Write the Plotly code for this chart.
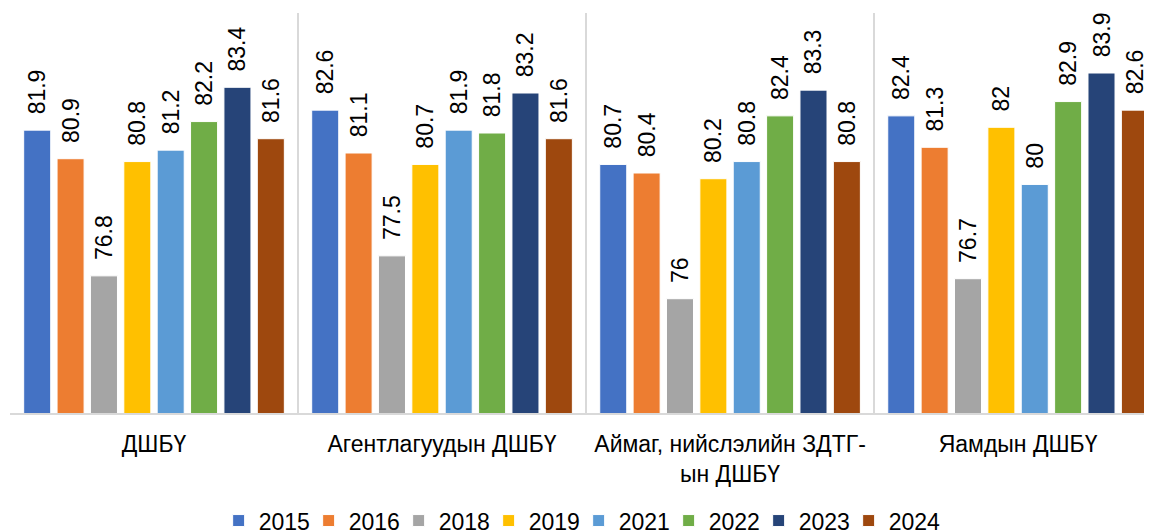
import plotly.graph_objects as go

categories = ["ДШБҮ", "Агентлагуудын ДШБҮ", "Аймаг, нийслэлийн ЗДТГ-<br>ын ДШБҮ", "Яамдын ДШБҮ"]
years = ["2015", "2016", "2018", "2019", "2021", "2022", "2023", "2024"]
values_2015 = [81.9, 82.6, 80.7, 82.4]
values_2016 = [80.9, 81.1, 80.4, 81.3]
values_2018 = [76.8, 77.5, 76.0, 76.7]
values_2019 = [80.8, 80.7, 80.2, 82.0]
values_2021 = [81.2, 81.9, 80.8, 80.0]
values_2022 = [82.2, 81.8, 82.4, 82.9]
values_2023 = [83.4, 83.2, 83.3, 83.9]
values_2024 = [81.6, 81.6, 80.8, 82.6]
series = [values_2015, values_2016, values_2018, values_2019,
          values_2021, values_2022, values_2023, values_2024]
colors = ["#4472C4", "#ED7D31", "#A5A5A5", "#FFC000",
          "#5B9BD5", "#70AD47", "#264478", "#9E480E"]

FONT = "Liberation Sans, Arial, sans-serif"

fig = go.Figure()
for yr, vals, col in zip(years, series, colors):
    fig.add_trace(go.Bar(
        name=yr, x=categories, y=vals,
        marker=dict(color=col, line=dict(color="white", width=1)),
        text=["\u00a0\u00a0" + f"{v:g}" for v in vals],
        textposition="outside", textangle=-90,
        textfont=dict(family=FONT, size=23, color="#000000"),
        cliponaxis=False, constraintext="none",
    ))

# blank trailing legend slot so the last legend label is not clipped
fig.add_trace(go.Scatter(x=[None], y=[None], mode="markers", name="\u00a0",
                         marker=dict(size=0, opacity=0, color="rgba(0,0,0,0)",
                                     line=dict(width=0)),
                         hoverinfo="skip"))

# page body has an 8px default margin, so the figure is 8px smaller
fig.update_layout(
    width=1144, height=524,
    margin=dict(l=2, r=0, t=5, b=119, autoexpand=False),
    paper_bgcolor="white", plot_bgcolor="white",
    barmode="group", bargap=0.073, bargroupgap=0.19,
    font=dict(family=FONT, size=23, color="#000000"),
    showlegend=True,
    legend=dict(orientation="h", x=0.1827, xanchor="left", y=-0.269, yanchor="middle",
                font=dict(size=23), itemwidth=30, tracegroupgap=0,
                entrywidth=45, entrywidthmode="pixels"),
    xaxis=dict(tickson="boundaries", showgrid=True, gridcolor="#D9D9D9", gridwidth=2,
               showline=True, linecolor="#D9D9D9", linewidth=2,
               range=[-0.5, 3.465], automargin=False,
               ticks="", ticklabelstandoff=9, tickfont=dict(size=23)),
    yaxis=dict(range=[72, 86], visible=False, showgrid=False, automargin=False),
)

fig.write_html("out.html")
